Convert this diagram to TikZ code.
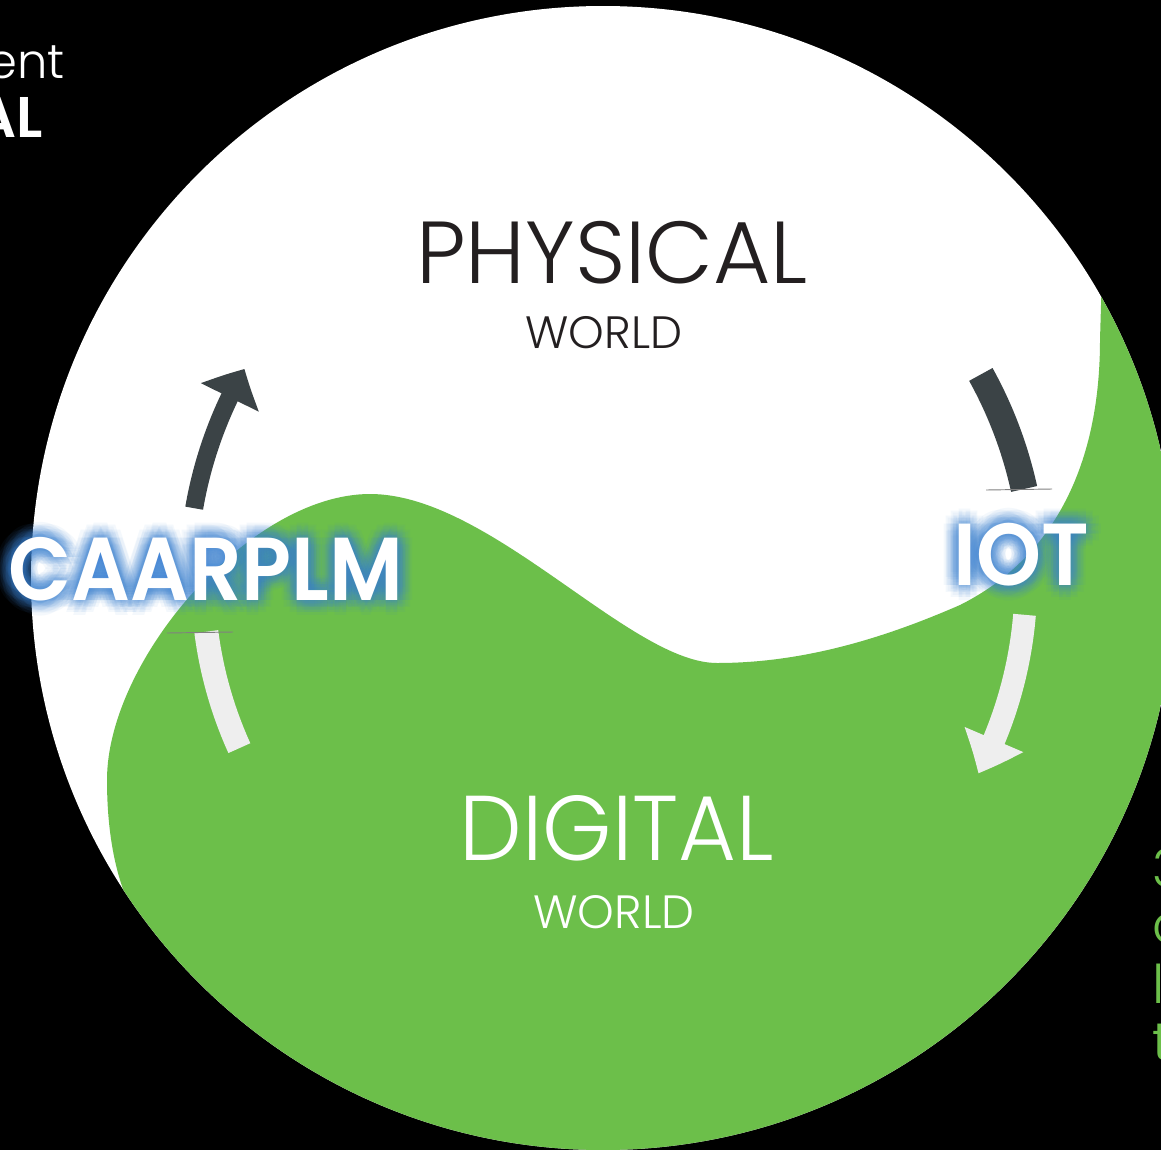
\documentclass[tikz,border=0pt]{standalone}
\usepackage{fontspec}
\usetikzlibrary{arrows.meta,bending,calc}
\IfFontExistsTF{Poppins Light}{\newfontfamily\lightfont{Poppins Light}}{\newfontfamily\lightfont{Poppins}}
\IfFontExistsTF{Poppins SemiBold}{\newfontfamily\boldfont{Poppins SemiBold}}{\newfontfamily\boldfont{Poppins}[FakeBold=2]}
\definecolor{leaf}{HTML}{6CBF4A}
\definecolor{darkarrow}{HTML}{3B4346}
\definecolor{lightarrow}{HTML}{EEEEEE}
\definecolor{ink}{HTML}{231F20}
\definecolor{glowblue}{HTML}{3F86D6}
\newcommand\glowlabel[5]{%
  \foreach \ang in {0,30,...,330}{\foreach \rr in {3,6,9,12,15}{%
    \node[anchor=base,inner sep=0,xscale=#5,text=glowblue,text opacity=0.055,font=\boldfont\fontsize{#3}{#3}\selectfont] at ($(#1,#2)+(\ang:\rr)$) {#4};}}}
\begin{document}
\begin{tikzpicture}[x=0.75pt,y=-0.75pt,
  lbl/.style={anchor=base,inner sep=0},
  band/.style={line cap=butt}]
\useasboundingbox (0,0) rectangle (1161,1150);
\fill[black] (0,0) rectangle (1161,1150);
\coordinate (O) at (603,578);
\coordinate (C) at (610,580);
\fill[white] (O) circle (429pt);
\begin{scope}
  \clip (O) circle (429pt);
  \fill[leaf] (160,985) -- (140,925)
    .. controls (118,890) and (107,840) .. (107,780)
    .. controls (107,660) and (250,494) .. (370,494)
    .. controls (490,494) and (630,663) .. (717,663)
    .. controls (800,663) and (880,640) .. (960,605)
    .. controls (1050,560) and (1100,470) .. (1100,340)
    -- (1104,200) -- (1300,200) -- (1300,1300) -- (-100,1300) -- cycle;
\end{scope}
% arrows
\draw[band, darkarrow, line width=13.5pt, -{Triangle[width=47pt,length=24pt,bend]}] ($(C)+(189.8:422)$) arc[start angle=189.8, end angle=210, radius=422];
\draw[band, darkarrow, line width=20pt] ($(C)+(331:424)$) arc[start angle=331, end angle=347.6, radius=424];
\draw[band, lightarrow, line width=18pt] ($(C)+(155.6:407)$) arc[start angle=155.6, end angle=172.7, radius=407];
\draw[band, lightarrow, line width=17pt, -{Triangle[width=46pt,length=28pt,bend]}] ($(C)+(4.8:416)$) arc[start angle=4.8, end angle=27.7, radius=416];
\draw[gray, line width=0.7pt] (167,633) -- (233,632);
\draw[gray, line width=0.7pt] (986,490) -- (1052,489);
% titles
\node[lbl, text=ink, font=\lightfont\fontsize{66}{66}\selectfont] (phys) at (612,283) {PHYSICAL};
\node[lbl, text=ink, font=\lightfont\fontsize{34}{34}\selectfont] (pworld) at (604,348) {WORLD};
\node[lbl, xscale=0.965, text=white, font=\lightfont\fontsize{69}{69}\selectfont] (dig) at (617,860) {DIGITAL};
\node[lbl, text=white, font=\lightfont\fontsize{35}{35}\selectfont] (dworld) at (614,928) {WORLD};
% glowing labels
\glowlabel{206}{600}{67}{CAARPLM}{0.92}
\node[lbl, xscale=0.92, text=white, font=\boldfont\fontsize{67}{67}\selectfont] (caar) at (206,600) {CAARPLM};
\glowlabel{1021}{585}{66}{IOT}{0.94}
\node[lbl, xscale=0.94, text=white, font=\boldfont\fontsize{66}{66}\selectfont] (iot) at (1021,585) {IOT};
% cropped side texts
\node[anchor=base east, inner sep=0, text=white, font=\lightfont\fontsize{36}{36}\selectfont] (ent) at (65,78) {ent};
\node[anchor=base east, inner sep=0, text=white, font=\boldfont\fontsize{43}{43}\selectfont] (al) at (43,137) {AL};
\node[anchor=base west, inner sep=0, text=leaf, font=\lightfont\fontsize{40}{40}\selectfont] (g1) at (1152,887) {3};
\node[anchor=base west, inner sep=0, text=leaf, font=\lightfont\fontsize{40}{40}\selectfont] (g2) at (1152,943) {c};
\node[anchor=base west, inner sep=0, text=leaf, font=\lightfont\fontsize{40}{40}\selectfont] (g3) at (1152,1003) {l};
\node[anchor=base west, inner sep=0, text=leaf, font=\lightfont\fontsize{40}{40}\selectfont] (g4) at (1152,1060) {t};
\end{tikzpicture}
\end{document}
